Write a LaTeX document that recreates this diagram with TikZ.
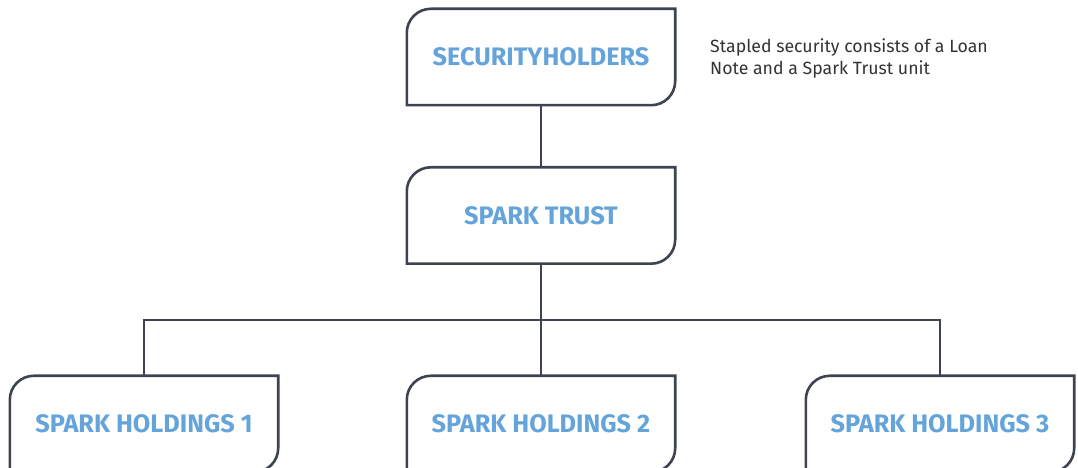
\documentclass[tikz,border=0pt]{standalone}
\usepackage{fontspec}
\setmainfont{Fira Sans}
\definecolor{boxline}{HTML}{3D4350}
\definecolor{boxtext}{HTML}{64A4DA}
\definecolor{notetext}{HTML}{333333}
\begin{document}
\begin{tikzpicture}[x=1pt,y=1pt,
  box/.style={minimum width=268pt,minimum height=96pt,inner sep=0pt,draw=none,
    font=\fontsize{25.3}{30}\selectfont\bfseries,text=boxtext},
  edge/.style={draw=boxline,line width=2.6pt},
  conn/.style={draw=boxline,line width=2.4pt}]
\useasboundingbox (0,0) rectangle (1078,468);
\def\r{24}
\newcommand{\shapebox}[1]{%
  \draw[edge,line join=miter] ([yshift=-\r pt]#1.north west) arc[start angle=180,end angle=90,radius=\r pt]
    -- (#1.north east) -- ([yshift=\r pt]#1.south east)
    arc[start angle=0,end angle=-90,radius=\r pt] -- (#1.south west) -- cycle;}
\node[box] (sh) at (541,411) {SECURITYHOLDERS};
\node[box] (st) at (541,252.5) {SPARK TRUST};
\node[box] (h1) at (144,44) {SPARK HOLDINGS 1};
\node[box] (h2) at (541,44) {SPARK HOLDINGS 2};
\node[box] (h3) at (940,44) {SPARK HOLDINGS 3};
\node[anchor=north west,align=left,inner sep=0pt,text=notetext,
  font=\fontsize{17.7}{21.5}\selectfont] (note) at (710,429) {Stapled security consists of a Loan\\Note and a Spark Trust unit};
\coordinate (bus) at (144,148);
\draw[conn] (sh.south) -- (st.north);
\draw[conn] (st.south) -- (h2.north);
\draw[conn] (h1.north) -- (bus) -| (h3.north);
\shapebox{sh}
\shapebox{st}
\shapebox{h1}
\shapebox{h2}
\shapebox{h3}
\end{tikzpicture}
\end{document}
